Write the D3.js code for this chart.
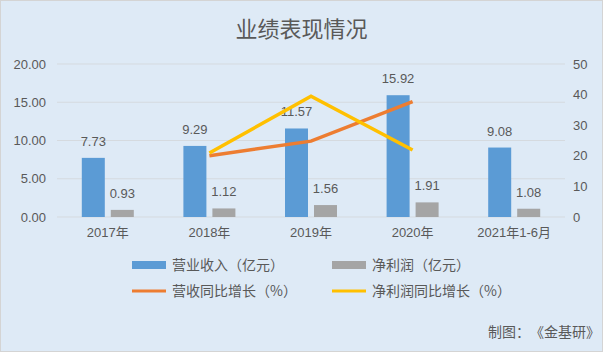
<!DOCTYPE html>
<html>
<head>
<meta charset="utf-8">
<script src="https://cdn.jsdelivr.net/npm/d3@7"></script>
<style>
  body { margin: 0; background: #fff; }
  text { font-family: "Noto Sans CJK SC", "Noto Sans", sans-serif; fill: #595959; }
  .num { font-family: "Liberation Sans", "Noto Sans CJK SC", sans-serif; }
  .grid line { stroke: #D5DADF; stroke-width: 1; }
</style>
</head>
<body>
<div id="chart"></div>
<script>
var categories = ["2017年", "2018年", "2019年", "2020年", "2021年1-6月"];
var revenue = [7.73, 9.29, 11.57, 15.92, 9.08];
var profit = [0.93, 1.12, 1.56, 1.91, 1.08];
// growth series start at 2018 (null = no point)
var revenueGrowth = [null, 20.0, 24.8, 37.7, null];
var profitGrowth = [null, 20.9, 39.5, 21.9, null];
var leftTicks = [0, 5, 10, 15, 20];
var rightTicks = [0, 10, 20, 30, 40, 50];

var W = 603, H = 352;
var margin = { top: 64, right: 38, bottom: 135, left: 57 };
var width = W - margin.left - margin.right;
var height = H - margin.top - margin.bottom;

var svgRoot = d3.select("#chart").append("svg")
    .attr("width", W)
    .attr("height", H);

svgRoot.append("rect")
    .attr("x", 0.5).attr("y", 0.5)
    .attr("width", W - 1).attr("height", H - 1)
    .attr("fill", "#DEEAF6")
    .attr("stroke", "#D4D4D4");

svgRoot.append("text")
    .attr("x", W / 2)
    .attr("y", 37)
    .attr("text-anchor", "middle")
    .style("font-size", "22px")
    .text("业绩表现情况");

var svg = svgRoot.append("g")
    .attr("transform", "translate(" + margin.left + "," + margin.top + ")");

var x = d3.scaleBand().domain(categories).range([0, width]);
var yLeft = d3.scaleLinear().domain([0, 20]).range([height, 0]);
var yRight = d3.scaleLinear().domain([0, 50]).range([height, 0]);

var barW = 23, gap = 6;

// gridlines
svg.append("g").attr("class", "grid")
    .selectAll("line").data(leftTicks).enter().append("line")
    .attr("x1", 0).attr("x2", width)
    .attr("y1", d => yLeft(d)).attr("y2", d => yLeft(d));

// left axis
var yAxisL = d3.axisLeft(yLeft).tickValues(leftTicks).tickFormat(d3.format(".2f")).tickSize(0).tickPadding(11);
var gL = svg.append("g").call(yAxisL);
gL.select(".domain").remove();
gL.selectAll("text").attr("class", "num").style("font-size", "13px").attr("fill", "#595959");

// right axis
var yAxisR = d3.axisRight(yRight).tickValues(rightTicks).tickSize(0).tickPadding(8);
var gR = svg.append("g").attr("transform", "translate(" + width + ",0)").call(yAxisR);
gR.select(".domain").remove();
gR.selectAll("text").attr("class", "num").style("font-size", "13px").attr("fill", "#595959");

// x axis labels
var xAxis = d3.axisBottom(x).tickSize(0).tickPadding(11);
var gX = svg.append("g").attr("transform", "translate(0," + height + ")").call(xAxis);
gX.select(".domain").remove();
gX.selectAll("text").attr("class", "num").style("font-size", "13px").attr("fill", "#595959");

function cx(c) { return x(c) + x.bandwidth() / 2; }

// bars
svg.selectAll(".bar-rev").data(revenue).enter().append("rect")
    .attr("class", "bar-rev")
    .attr("x", (d, i) => cx(categories[i]) - gap / 2 - barW)
    .attr("y", d => yLeft(d))
    .attr("width", barW)
    .attr("height", d => height - yLeft(d))
    .attr("fill", "#5B9BD5");

svg.selectAll(".bar-pro").data(profit).enter().append("rect")
    .attr("class", "bar-pro")
    .attr("x", (d, i) => cx(categories[i]) + gap / 2)
    .attr("y", d => yLeft(d))
    .attr("width", barW)
    .attr("height", d => height - yLeft(d))
    .attr("fill", "#A5A5A5");

// bar labels
svg.selectAll(".lab-rev").data(revenue).enter().append("text")
    .attr("class", "num")
    .attr("x", (d, i) => cx(categories[i]) - gap / 2 - barW / 2)
    .attr("y", d => yLeft(d) - 12)
    .attr("text-anchor", "middle")
    .style("font-size", "13px")
    .text(d => d3.format(".2f")(d));

svg.selectAll(".lab-pro").data(profit).enter().append("text")
    .attr("class", "num")
    .attr("x", (d, i) => cx(categories[i]) + gap / 2 + barW / 2)
    .attr("y", d => yLeft(d) - 12)
    .attr("text-anchor", "middle")
    .style("font-size", "13px")
    .text(d => d3.format(".2f")(d));

// growth lines
var line = d3.line()
    .defined(d => d != null)
    .x((d, i) => cx(categories[i]))
    .y(d => yRight(d));

svg.append("path").datum(revenueGrowth)
    .attr("d", line)
    .attr("fill", "none")
    .attr("stroke", "#ED7D31")
    .attr("stroke-width", 3.5);

svg.append("path").datum(profitGrowth)
    .attr("d", line)
    .attr("fill", "none")
    .attr("stroke", "#FFC000")
    .attr("stroke-width", 3.5);

// legend
var legendItems = [
  { name: "营业收入（亿元）", type: "rect", color: "#5B9BD5", x: 132, y: 265 },
  { name: "净利润（亿元）", type: "rect", color: "#A5A5A5", x: 332, y: 265 },
  { name: "营收同比增长（%）", type: "line", color: "#ED7D31", x: 132, y: 291 },
  { name: "净利润同比增长（%）", type: "line", color: "#FFC000", x: 332, y: 291 }
];

var legend = svgRoot.selectAll(".legend").data(legendItems).enter().append("g")
    .attr("class", "legend")
    .attr("transform", d => "translate(" + d.x + "," + d.y + ")");

legend.filter(d => d.type == "rect").append("rect")
    .attr("x", 0).attr("y", -4)
    .attr("width", 34).attr("height", 8)
    .attr("fill", d => d.color);

legend.filter(d => d.type == "line").append("line")
    .attr("x1", 0).attr("x2", 34)
    .attr("y1", 0).attr("y2", 0)
    .attr("stroke", d => d.color)
    .attr("stroke-width", 3);

legend.append("text")
    .attr("x", 40)
    .attr("y", 5)
    .style("font-size", "14px")
    .text(d => d.name);

svgRoot.append("text")
    .attr("x", 488)
    .attr("y", 337)
    .style("font-size", "14px")
    .text("制图：");
svgRoot.append("text")
    .attr("x", 530)
    .attr("y", 337)
    .style("font-size", "14px")
    .text("《金基研》");
</script>
</body>
</html>
